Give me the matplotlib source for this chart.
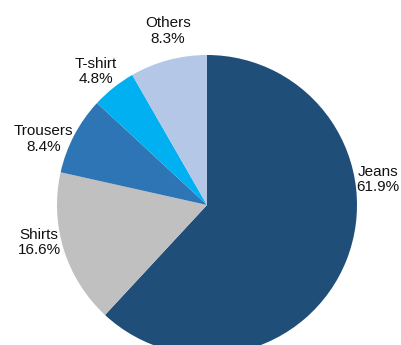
import matplotlib.pyplot as plt

# category shares, clockwise from 12 o'clock
categories = ['Jeans', 'Shirts', 'Trousers', 'T-shirt', 'Others']
shares = [61.9, 16.6, 8.4, 4.8, 8.3]
colours = ['#1f4e79', '#c0c0c0', '#2e75b6', '#00b0f0', '#b4c7e7']

# where each label sits (data coords, pie radius = 1)
label_pos = {
    'Jeans': (1.14, 0.17),
    'Shirts': (-1.12, -0.25),
    'Trousers': (-1.09, 0.44),
    'T-shirt': (-0.74, 0.89),
    'Others': (-0.26, 1.16),
}

plt.rcParams['font.family'] = ['Liberation Sans', 'DejaVu Sans']

fig = plt.figure(figsize=(4.01, 3.45), dpi=100)
ax = fig.add_axes([57 / 401, -10 / 345, 300 / 401, 300 / 345])

ax.pie(shares, colors=colours, startangle=90, counterclock=False,
       radius=1, wedgeprops={'linewidth': 0})

for name, val in zip(categories, shares):
    x, y = label_pos[name]
    ax.text(x, y, f'{name}\n{val:.1f}%', ha='center', va='center',
            fontsize=11, color='#111111', linespacing=1.15, clip_on=False)

ax.set_xlim(-1, 1)
ax.set_ylim(-1, 1)
ax.set_aspect('equal')
ax.axis('off')

fig.savefig('out.png', dpi=100)
